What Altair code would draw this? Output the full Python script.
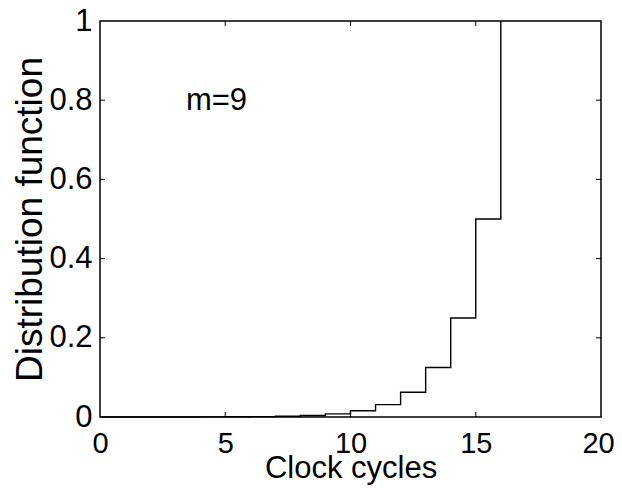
import altair as alt
import pandas as pd

# Step data (clock cycles vs distribution function)
cycles = [0, 1, 2, 3, 4, 5, 6, 7, 8, 9, 10, 11, 12, 13, 14, 15, 16]
dist = [0.0000153, 0.0000305, 0.000061, 0.000122, 0.000244, 0.000488,
        0.000977, 0.00195, 0.0039, 0.0078, 0.0156, 0.03125, 0.0625,
        0.125, 0.25, 0.5, 1.0]

x_ticks = [0, 5, 10, 15, 20]
y_ticks = [0, 0.2, 0.4, 0.6, 0.8, 1]
x_inner = [5, 10, 15]
y_inner = [0.2, 0.4, 0.6, 0.8]

label_text = ["m=9"]
label_x = [3.43]
label_y = [0.775]

W, H = 501, 396
FONT = "Liberation Sans"

df = pd.DataFrame({"x": cycles, "y": dist})
xs = alt.Scale(domain=[0, 20], nice=False, zero=False)
ys = alt.Scale(domain=[0, 1], nice=False, zero=False)

line = alt.Chart(df).mark_line(interpolate="step-after", color="black", strokeWidth=1.4).encode(
    x=alt.X("x:Q", scale=xs, axis=alt.Axis(
        values=x_ticks, format="d", title="Clock cycles", ticks=False, domain=False, grid=False,
        labelFont=FONT, labelFontSize=29, labelColor="black", labelBaseline="alphabetic",
        labelPadding=35, labelOverlap=False, labelFlush=False, labelBound=False,
        labelOffset={"condition": {"test": "datum.value == 20", "value": -3}, "value": 0},
        titleFont=FONT, titleFontSize=31, titleFontWeight="normal", titleColor="black",
        titleX=W / 2, titleY=60, titleBaseline="alphabetic", titleAlign="center")),
    y=alt.Y("y:Q", scale=ys, axis=alt.Axis(
        values=y_ticks, format=".1~f", title="Distribution function", ticks=False, domain=False, grid=False,
        labelFont=FONT, labelFontSize=31, labelColor="black", labelBaseline="middle",
        labelPadding=8, labelOverlap=False, labelFlush=False, labelBound=False,
        titleFont=FONT, titleFontSize=37, titleFontWeight="normal", titleColor="black",
        titleX=-59, titleY=H / 2, titleAngle=-90, titleBaseline="alphabetic", titleAlign="center")),
)

ann = alt.Chart(pd.DataFrame({"t": label_text, "x": label_x, "y": label_y})).mark_text(
    align="left", baseline="alphabetic", font=FONT, fontSize=31, color="black"
).encode(x=alt.X("x:Q", scale=xs), y=alt.Y("y:Q", scale=ys), text="t:N")

xt = pd.DataFrame({"x": x_inner})
yt = pd.DataFrame({"y": y_inner})
tick_style = dict(color="black", strokeWidth=1)
bottom_ticks = alt.Chart(xt).mark_rule(**tick_style).encode(
    x=alt.X("x:Q", scale=xs), y=alt.value(H), y2=alt.value(H - 5))
top_ticks = alt.Chart(xt).mark_rule(**tick_style).encode(
    x=alt.X("x:Q", scale=xs), y=alt.value(0), y2=alt.value(5))
left_ticks = alt.Chart(yt).mark_rule(**tick_style).encode(
    y=alt.Y("y:Q", scale=ys), x=alt.value(0), x2=alt.value(5))
right_ticks = alt.Chart(yt).mark_rule(**tick_style).encode(
    y=alt.Y("y:Q", scale=ys), x=alt.value(W), x2=alt.value(W - 5))

chart = alt.layer(line, ann, bottom_ticks, top_ticks, left_ticks, right_ticks).properties(
    width=W, height=H,
    autosize=alt.AutoSizeParams(type="none"),
    padding={"left": 92, "top": 13, "right": 13, "bottom": 70},
    background="white",
).configure_view(stroke="black", strokeWidth=1.5)

chart.save("out.html", embed_options={"renderer": "svg", "actions": False})
